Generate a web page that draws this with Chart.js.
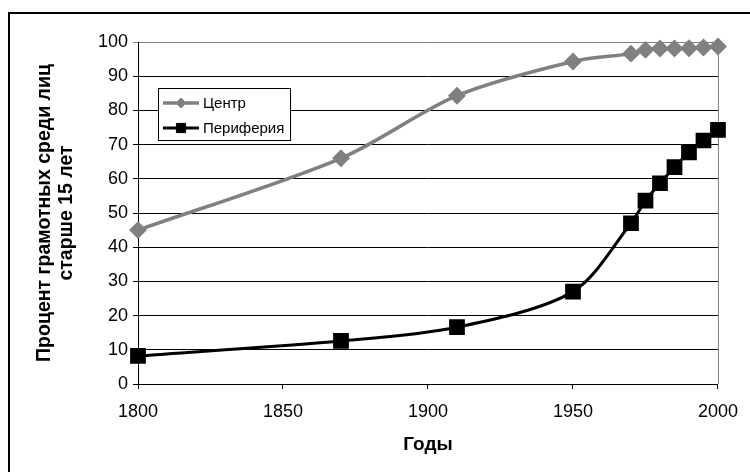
<!DOCTYPE html>
<html>
<head>
<meta charset="utf-8">
<script src="https://cdn.jsdelivr.net/npm/chart.js@4/dist/chart.umd.min.js"></script>
<style>
  html, body { margin: 0; padding: 0; background: #fff; }
  #wrap { width: 750px; height: 472px; position: relative; }
</style>
</head>
<body>
<div id="wrap"><canvas id="myChart" width="750" height="472"></canvas></div>
<script>
const years = [1800, 1870, 1910, 1950, 1970, 1975, 1980, 1985, 1990, 1995, 2000]
const centerValues = [45, 66, 84.3, 94.3, 96.6, 97.7, 98.1, 98.1, 98.2, 98.4, 98.7]
const peripheryValues = [8.2, 12.6, 16.6, 27, 47, 53.6, 58.7, 63.4, 67.7, 71.2, 74.3]
const seriesNames = ['Центр', 'Периферия']
const xTicks = [1800, 1850, 1900, 1950, 2000]
const yTitle = ['Процент грамотных среди лиц', 'старше 15 лет']
const xTitle = 'Годы'

const FONT = "'Liberation Sans', Arial, sans-serif"

function toPoints(values){
    let pts = []
    values.forEach((v, i) => {
        pts.push({x: years[i], y: v})
    })
    return pts
}

// frame of the chart (only left and top edges are visible in the picture)
const framePlugin = {
    id: 'frame',
    afterDraw(chart){
        const c = chart.ctx
        c.save()
        c.strokeStyle = '#000'
        c.lineWidth = 2
        c.beginPath()
        c.moveTo(9, 472)
        c.lineTo(9, 13)
        c.lineTo(750, 13)
        c.stroke()
        c.restore()
    }
}

// gray right edge of the plot area
const plotEdgePlugin = {
    id: 'plotEdge',
    beforeDatasetsDraw(chart){
        const {ctx: c, chartArea: a} = chart
        c.save()
        c.strokeStyle = '#808080'
        c.lineWidth = 1
        c.beginPath()
        c.moveTo(a.right + 0.5, a.top)
        c.lineTo(a.right + 0.5, a.bottom)
        c.stroke()
        c.restore()
    }
}

// legend box inside the plot, like the excel one
const boxLegendPlugin = {
    id: 'boxLegend',
    afterDatasetsDraw(chart){
        const c = chart.ctx
        const bx = 158, by = 88, bw = 132, bh = 52
        c.save()
        c.fillStyle = '#fff'
        c.fillRect(bx, by, bw, bh)
        c.strokeStyle = '#000'
        c.lineWidth = 1
        c.strokeRect(bx + 0.5, by + 0.5, bw, bh)
        chart.data.datasets.forEach((ds, i) => {
            const y = by + 15 + i * 25
            c.strokeStyle = ds.borderColor
            c.lineWidth = ds.borderWidth
            c.beginPath()
            c.moveTo(bx + 5, y)
            c.lineTo(bx + 41, y)
            c.stroke()
            c.fillStyle = ds.pointBackgroundColor
            c.strokeStyle = ds.pointBorderColor
            c.lineWidth = 1
            Chart.helpers.drawPoint(c, {pointStyle: ds.pointStyle, radius: ds.legendRadius, borderWidth: 1}, bx + 23, y)
            c.fillStyle = '#000'
            c.font = '15px ' + FONT
            c.textAlign = 'left'
            c.textBaseline = 'middle'
            c.fillText(ds.label, bx + 45, y + 1)
        })
        c.restore()
    }
}

const ctx = document.getElementById('myChart').getContext('2d')

const config = {
    type: 'line',
    data: {
        datasets: [
            {
                label: seriesNames[0],
                data: toPoints(centerValues),
                borderColor: '#808080',
                backgroundColor: '#808080',
                pointBackgroundColor: '#808080',
                pointBorderColor: '#808080',
                borderWidth: 3.5,
                pointStyle: 'rectRot',
                pointRadius: 6.5,
                legendRadius: 5,
                tension: 0.3,
                clip: false
            },
            {
                label: seriesNames[1],
                data: toPoints(peripheryValues),
                borderColor: '#000',
                backgroundColor: '#000',
                pointBackgroundColor: '#000',
                pointBorderColor: '#000',
                borderWidth: 3,
                pointStyle: 'rect',
                pointRadius: 9,
                legendRadius: 6.5,
                tension: 0.3,
                clip: false
            }
        ]
    },
    options: {
        responsive: false,
        animation: false,
        layout: { padding: { left: 0, top: 42, right: 32, bottom: 0 } },
        plugins: {
            legend: { display: false },
            tooltip: { enabled: false }
        },
        elements: { point: { borderWidth: 1 } },
        scales: {
            x: {
                type: 'linear',
                min: 1800,
                max: 2000,
                afterBuildTicks(scale){
                    scale.ticks = xTicks.map(v => ({value: v}))
                },
                afterFit(scale){ scale.height = 88 },
                grid: { drawOnChartArea: false, drawTicks: true, tickLength: 5, color: '#000' },
                border: { color: '#000', width: 1 },
                ticks: {
                    color: '#000',
                    font: { family: FONT, size: 18 },
                    padding: 12,
                    maxRotation: 0,
                    callback: v => String(v)
                },
                title: { display: true, text: xTitle, color: '#000', font: { family: FONT, size: 19, weight: 'bold' }, padding: { top: 0, bottom: 16 } }
            },
            y: {
                min: 0,
                max: 100,
                ticks: { stepSize: 10, color: '#000', font: { family: FONT, size: 18 }, padding: 5 },
                afterFit(scale){ scale.width = 138 },
                grid: {
                    color: c => (c.tick && c.tick.value === 100) ? '#808080' : '#000',
                    tickLength: 5
                },
                border: { color: '#000', width: 1 },
                title: {
                    display: true,
                    text: yTitle,
                    color: '#000',
                    font: { family: FONT, size: 19.5, weight: 'bold', lineHeight: 1.15 },
                    padding: { top: 33, bottom: 0 }
                }
            }
        }
    },
    plugins: [framePlugin, plotEdgePlugin, boxLegendPlugin]
}

const myChart = new Chart(ctx, config)
</script>
</body>
</html>
